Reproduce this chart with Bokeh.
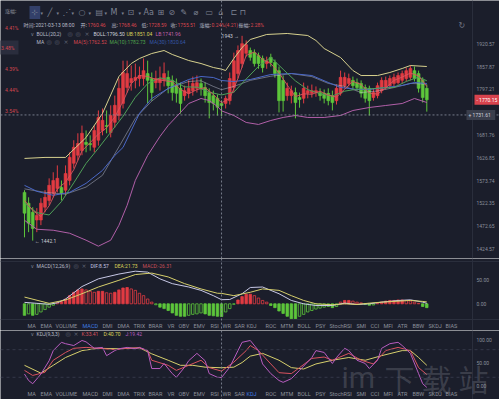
from bokeh.plotting import figure
from bokeh.models import ColumnDataSource, Label, Span, FixedTicker, PrintfTickFormatter, Range1d
from bokeh.layouts import column
from bokeh.embed import file_html
from bokeh.resources import INLINE

# ---------------- data ----------------
opens = [1547, 1523, 1503, 1486, 1486, 1514, 1529, 1545, 1556, 1558,
         1552, 1574, 1614, 1633, 1644, 1664, 1661, 1652, 1669, 1693,
         1705, 1688, 1713, 1730, 1761, 1802, 1815, 1821, 1826, 1826,
         1839, 1826, 1815, 1815, 1821, 1829, 1821, 1807, 1800, 1781,
         1787, 1794, 1800, 1813, 1802, 1789, 1781, 1774, 1760.46, 1761,
         1768, 1802, 1839, 1866, 1894, 1902, 1896, 1888, 1880, 1866,
         1883, 1869, 1847, 1821, 1781, 1781, 1789, 1776, 1774, 1787,
         1787, 1789, 1789, 1787, 1787, 1781, 1768, 1787, 1807, 1813,
         1821, 1815, 1813, 1802, 1800, 1776, 1781, 1794, 1802, 1807,
         1813, 1815, 1821, 1826, 1829, 1847, 1839, 1821, 1800]
highs = [1552, 1536, 1514, 1512, 1534, 1552, 1579, 1593, 1609, 1574,
         1609, 1640, 1669, 1686, 1705, 1693, 1681, 1705, 1743, 1748,
         1743, 1756, 1781, 1826, 1874, 1874, 1861, 1866, 1858, 1880,
         1874, 1842, 1847, 1858, 1869, 1847, 1834, 1826, 1815, 1807,
         1821, 1831, 1834, 1826, 1815, 1800, 1794, 1784, 1768.46, 1781,
         1842, 1896, 1916, 1943, 1930, 1910, 1905, 1896, 1888, 1885,
         1893, 1877, 1858, 1834, 1815, 1807, 1802, 1789, 1815, 1807,
         1810, 1805, 1800, 1797, 1800, 1794, 1810, 1847, 1842, 1839,
         1831, 1826, 1821, 1810, 1807, 1800, 1815, 1829, 1831, 1834,
         1839, 1842, 1847, 1855, 1861, 1858, 1847, 1829, 1810]
lows = [1449, 1460, 1442.1, 1460, 1475, 1503, 1518, 1536, 1547, 1529,
        1540, 1563, 1602, 1621, 1633, 1640, 1644, 1640, 1656, 1681,
        1686, 1676, 1700, 1718, 1748, 1789, 1794, 1800, 1805, 1807,
        1761, 1768, 1800, 1794, 1805, 1787, 1768, 1763, 1735, 1768,
        1774, 1781, 1789, 1781, 1763, 1723, 1743, 1730, 1728.59, 1748,
        1758, 1789, 1826, 1855, 1885, 1874, 1858, 1852, 1842, 1852,
        1858, 1828, 1738, 1740, 1768, 1761, 1723, 1750, 1761, 1774,
        1776, 1778, 1768, 1761, 1756, 1743, 1758, 1781, 1800, 1805,
        1797, 1794, 1776, 1763, 1730, 1768, 1774, 1787, 1797, 1800,
        1805, 1810, 1813, 1818, 1821, 1818, 1789, 1763, 1740]
closes = [1501, 1479, 1468, 1496, 1523, 1536, 1563, 1574, 1579, 1545,
          1590, 1628, 1652, 1661, 1686, 1659, 1658, 1693, 1725, 1718,
          1703, 1730, 1756, 1800, 1842, 1839, 1826, 1829, 1834, 1847,
          1821, 1789, 1826, 1826, 1839, 1807, 1789, 1787, 1761, 1794,
          1800, 1813, 1815, 1800, 1781, 1763, 1761, 1751, 1755.51, 1774,
          1826, 1874, 1902, 1921, 1918, 1883, 1866, 1866, 1855, 1874,
          1869, 1839, 1768, 1768, 1800, 1794, 1763, 1771, 1800, 1794,
          1794, 1794, 1781, 1774, 1768, 1763, 1800, 1829, 1829, 1826,
          1807, 1802, 1787, 1774, 1768, 1789, 1807, 1821, 1821, 1826,
          1829, 1834, 1839, 1847, 1853, 1826, 1800, 1776, 1770.15]

ub_idx = [0, 5, 10, 15, 19, 23, 26, 28, 31, 34, 36, 40, 43, 46, 48, 49, 51, 53, 55, 59,
          64, 69, 71, 73, 77, 80, 82, 86, 89, 92, 94, 98]
ub_val = [1625.4, 1627.8, 1627.8, 1675.8, 1735.4, 1831.3, 1866.2, 1879.9, 1893.6, 1901.9,
          1890.9, 1874.4, 1866.2, 1855.4, 1851.04, 1847.3, 1879.9, 1910.2, 1932.6, 1946.8,
          1949.6, 1943.9, 1929.8, 1907.4, 1882.6, 1847.3, 1833.9, 1833.9, 1842.0, 1852.7,
          1860.8, 1858.1]
lb_idx = [0, 3, 7, 11, 15, 18, 21, 23, 25, 27, 30, 33, 35, 38, 40, 43, 45, 47, 48, 51,
          54, 57, 60, 63, 66, 69, 73, 77, 80, 84, 88, 92, 95, 98]
lb_val = [1485.5, 1466.2, 1464.1, 1457.7, 1443.0, 1430.5, 1443.0, 1474.7, 1518.2, 1574.3,
          1632.5, 1678.2, 1705.3, 1737.9, 1760.7, 1773.6, 1768.4, 1753.1, 1741.96, 1730.3,
          1712.8, 1707.8, 1717.7, 1725.3, 1730.3, 1725.3, 1725.3, 1730.3, 1742.9, 1750.5,
          1755.6, 1760.7, 1773.6, 1763.3]
mb_idx = [0, 5, 10, 15, 19, 23, 27, 31, 35, 40, 43, 46, 48, 51, 55, 60, 65, 70, 74, 78,
          82, 86, 90, 94, 98]
mb_val = [1555, 1547, 1543, 1559, 1586, 1653, 1723, 1767, 1800, 1818, 1820, 1805, 1796.5,
          1805, 1821, 1832, 1839, 1831, 1813, 1805, 1789, 1793, 1802, 1813, 1811]
ma5_idx = list(range(0, 99, 2))
ma5_val = [1529, 1507, 1493.4, 1517.2, 1555, 1570.2, 1598.8, 1643.4, 1663.2, 1684.2,
           1699.4, 1726.4, 1766.2, 1812.6, 1834, 1831.4, 1823.4, 1820.2, 1817.4, 1796.6,
           1786.2, 1796.6, 1801.8, 1784, 1762.52, 1773.5, 1826.3, 1888.2, 1898, 1877.6,
           1866, 1841, 1808.8, 1778.6, 1785.6, 1784.4, 1792.6, 1782.2, 1777.2, 1797.8,
           1818.2, 1810.2, 1787.6, 1785, 1801.2, 1820.8, 1829.8, 1840.4, 1833, 1805]
ma10_idx = [0, 3, 6, 9, 12, 15, 18, 21, 24, 27, 30, 33, 36, 39, 42, 45, 48, 51, 54, 57,
            60, 63, 66, 69, 72, 75, 78, 81, 84, 87, 90, 93, 96, 98]
ma10_val = [1523, 1502, 1497, 1526.4, 1568.6, 1613.7, 1649.7, 1688.5, 1728.4, 1776.8,
            1812.4, 1827.9, 1820.7, 1803.9, 1803.1, 1790.3, 1782.73, 1790, 1824.6, 1858.6,
            1882.8, 1850.6, 1819.6, 1796.6, 1785.9, 1780.2, 1792.6, 1797.9, 1798.5, 1801,
            1802.4, 1818.1, 1829.6, 1820]
ma30_idx = [0, 3, 7, 11, 15, 19, 22, 24, 28, 31, 35, 40, 43, 46, 48, 51, 55, 60, 65, 70,
            74, 77, 81, 84, 88, 92, 95, 98]
ma30_val = [1562.9, 1549.4, 1540.4, 1547.1, 1567.5, 1597.3, 1632.5, 1651.6, 1735.4, 1773.6,
            1799.6, 1823.3, 1831.3, 1828.6, 1820.6, 1818.0, 1823.3, 1836.6, 1839.3, 1833.9,
            1815.4, 1802.2, 1797.0, 1797.0, 1802.2, 1807.4, 1815.4, 1812.7]

macd_hist = [-24, -21, -24, -22, -17, -12, -7, -3, 2.6, 4.7,
             10, 17, 24, 29, 31, 29, 26, 24, 26, 26,
             23, 22, 24, 29, 33, 34, 31, 28, 22, 17,
             10, 3.5, -2, -7, -10, -14, -19, -24, -26, -26,
             -24, -22, -21, -19, -21, -24, -25, -26, -26.31, -17,
             -10, -1, 8, 15, 20, 20, 17, 12, 7, 3.5,
             -3.5, -8, -15, -20, -26, -31, -31, -26, -22, -17,
             -14, -11, -9, -7, -5.6, -8, -5.6, 3.5, 7, 7,
             5.6, 3.5, 2, -1.5, -3, -2.5, 1, 3.5, 5.6, 7,
             7, 8, 8, 7, 5.6, 3.5, 1, -5.6, -8]
dif_idx = [0, 3, 6, 8, 10, 14, 18, 23, 27, 30, 33, 36, 40, 43, 46, 48, 50, 53, 55, 58,
           62, 65, 68, 71, 75, 78, 81, 84, 87, 91, 94, 97, 98]
dif_val = [3, 1, -1, 2, 10, 36, 52, 62, 68, 66, 52, 42, 35, 28, 17, 8.57, 9, 21, 34, 35,
           21, 7, 0, -3.5, -3.5, 1.4, -1.4, 0, 3.5, 6.9, 8.3, 3.5, 1]
dea_idx = [0, 6, 10, 14, 18, 23, 27, 31, 35, 39, 43, 47, 48, 51, 55, 58, 62, 65, 68, 71,
           75, 78, 81, 84, 87, 91, 94, 97, 98]
dea_val = [14, 1, 8, 21, 35, 49, 61, 64, 56, 42, 31, 22, 21.73, 17, 24, 31, 28, 17, 7, 0,
           -2, 0, -1.4, 1.4, 3.5, 5.5, 7, 5, 4]

k_idx = [0, 2, 5, 7, 10, 12, 15, 18, 22, 25, 28, 30, 31, 35, 37, 40, 43, 45, 48, 51,
         54, 55, 57, 60, 62, 65, 67, 70, 73, 75, 79, 82, 85, 88, 91, 94, 96, 98]
k_val = [35, 24, 31, 57, 74, 83, 85, 83, 80, 83, 84, 78, 57, 46, 35, 46, 57, 41, 33.41, 53,
         78, 89, 78, 49, 30, 28, 41, 61, 64, 57, 72, 57, 49, 78, 85, 78, 41, 26]
d_idx = [0, 4, 7, 10, 14, 18, 23, 28, 31, 35, 38, 41, 44, 48, 51, 53, 55, 58, 62, 65,
         68, 71, 75, 79, 83, 87, 92, 94, 96, 98]
d_val = [46, 29, 46, 63, 78, 83, 82, 84, 71, 57, 46, 46, 42, 40.70, 42, 52, 66, 72, 57, 41,
         38, 49, 57, 63, 57, 67, 78, 78, 63, 46]
j_idx = [0, 1, 2, 4, 6, 7, 9, 10, 12, 14, 15, 17, 19, 20, 22, 23, 25, 27, 28, 30,
         31, 33, 34, 36, 37, 39, 40, 42, 44, 45, 47, 48, 50, 52, 53, 55, 57, 58, 60, 62,
         63, 65, 67, 70, 71, 73, 75, 76, 78, 79, 81, 83, 84, 86, 87, 89, 91, 92, 94, 96,
         97, 98]
j_val = [27, 13, 6, 27, 56, 78, 96, 93, 89, 100, 97, 83, 85, 67, 78, 82, 85, 82, 85, 78,
         39, 39, 50, 28, 20, 42, 56, 72, 56, 28, 20, 19.42, 42, 78, 96, 100, 78, 49, 28, 13,
         9, 17, 35, 63, 78, 74, 50, 63, 83, 78, 57, 50, 39, 57, 83, 93, 96, 89, 72, 28,
         6, -2]

price_ticks = [1424.57, 1472.65, 1522.35, 1573.74, 1626.85, 1681.76, 1797.21, 1857.87, 1920.57]
macd_ticks = [0, 50]
kdj_ticks = [0, 50, 100]
cross_idx = 48
cross_price = 1731.61
last_price = 1770.15
left_pcts = ["4.41%", "3.48%", "4.39%", "4.44%", "3.54%"]
tabs = ["MA", "EMA", "VOLUME", "MACD", "DMI", "DMA", "TRIX", "BRAR", "VR", "OBV", "EMV", "RSI",
        "WR", "SAR", "KDJ", "ROC", "MTM", "BOLL", "PSY", "StochRSI", "SMI", "CCI", "MFI", "ATR",
        "BBW", "SKDJ", "BIAS"]

# ---------------- style ----------------
BG = "#1b1e2b"
RED = "#e23b42"
GREEN = "#5dc63b"
SEP = "#2b2f3d"
AXT = "#8b909c"
TXT = "#b9bdc9"
LAT = "Roboto"
CJK = "Noto Sans CJK SC"
XR = (-5.846, 115.71)     # frame spans the whole 499 px width
AXIS_EDGE = 109.13        # where the price-axis column starts (x = 472 px)


def make_fig(fh, yr, ylog=False):
    kw = dict(frame_width=499, frame_height=fh, x_range=Range1d(*XR), y_range=yr,
              x_axis_location=None, y_axis_location="right",
              output_backend="svg", toolbar_location=None,
              min_border_left=0, min_border_right=0, min_border_top=0,
              min_border_bottom=0, background_fill_color=BG, border_fill_color=BG,
              outline_line_color=None)
    if ylog:
        kw["y_axis_type"] = "log"
    f = figure(**kw)
    f.grid.visible = False
    ax = f.yaxis[0]
    ax.axis_line_color = None
    ax.major_tick_line_color = None
    ax.minor_tick_line_color = None
    ax.major_tick_out = 0
    ax.major_tick_in = 0
    ax.minor_tick_out = 0
    ax.minor_tick_in = 0
    ax.major_label_text_color = AXT
    ax.major_label_text_font_size = "5px"
    ax.major_label_text_font = LAT
    ax.major_label_standoff = -23
    ax.formatter = PrintfTickFormatter(format="%.2f")
    f.add_layout(Span(location=AXIS_EDGE, dimension="height", line_color=SEP, line_width=1))
    return f


def T(f, fb, cx, cy, text, color, size=5, font=LAT, align="left", bg=None, pad=0, alpha=1.0):
    lab = Label(x=cx, y=fb - cy, x_units="screen", y_units="screen", text=text,
                text_color=color, text_font_size=f"{size}px", text_font=font,
                text_align=align, text_baseline="middle", text_alpha=alpha)
    if bg is not None:
        lab.background_fill_color = bg
        lab.padding = pad
    f.add_layout(lab)


def cross(f):
    f.add_layout(Span(location=cross_idx, dimension="height", line_color="#8d93a2",
                      line_dash="2 2", line_width=0.8))


# ---------------- main price panel ----------------
p = make_fig(258, Range1d(1405.09, 2045.5), ylog=True)
p.yaxis.ticker = FixedTicker(ticks=price_ticks)
idx = list(range(len(closes)))
src = ColumnDataSource(dict(
    x=idx, h=highs, l=lows,
    top=[max(o, c) for o, c in zip(opens, closes)],
    bot=[min(o, c) for o, c in zip(opens, closes)],
    col=[RED if c >= o else GREEN for o, c in zip(opens, closes)],
))
p.segment(x0="x", y0="l", x1="x", y1="h", line_color="col", line_width=1, source=src)
p.vbar(x="x", width=0.7, top="top", bottom="bot", fill_color="col", line_color="col",
       line_width=0.6, source=src)
p.line(mb_idx, mb_val, line_color="#c9cfe0", line_width=1, line_alpha=0.45)
p.line(ma30_idx, ma30_val, line_color="#4a68c8", line_width=1)
p.line(ma10_idx, ma10_val, line_color="#4f9e58", line_width=1)
p.line(ma5_idx, ma5_val, line_color="#d9545e", line_width=1, line_alpha=0.9)
p.line(ub_idx, ub_val, line_color="#d7d18e", line_width=1)
p.line(lb_idx, lb_val, line_color="#b15fa8", line_width=1)
cross(p)
p.add_layout(Span(location=cross_price, dimension="width", line_color="#8d93a2",
                  line_dash="2 2", line_width=0.8))
p.add_layout(Label(x=53, y=1943, text="1943 →", text_color="#c9ccd6", text_font_size="5px",
                   text_font=LAT, text_align="right", text_baseline="middle", x_offset=-3))
p.add_layout(Label(x=2, y=1442.1, text="← 1442.1", text_color="#c9ccd6", text_font_size="5px",
                   text_font=LAT, text_align="left", text_baseline="middle", x_offset=2))
p.add_layout(Label(x=474, y=last_price, x_units="screen", text="- 1770.15", text_color="white",
                   text_font_size="5px", text_font=LAT, text_baseline="middle",
                   background_fill_color="#d8434d", padding=2))
p.add_layout(Label(x=466, y=cross_price, x_units="screen", text="+   1731.61", text_color="#d0d3dc",
                   text_font_size="5px", text_font=LAT, text_baseline="middle",
                   background_fill_color="#3a3e4c", padding=2))

FB = 258
# toolbar
icons = ["⊹", "▾", "╱", "▾", "⋰", "▾", "○", "▾", "▤", "▾", "M", "▾", "⊡", "▾", "Aa", "⊞", "⊘",
         "✎", "⌀", "▭", "⌂", "⊏", "⊓"]
icon_x = [29, 40, 47, 56, 62, 71, 78, 88, 95, 104, 110, 121, 127, 138, 143, 157, 168, 180, 193,
          205, 218, 230, 239]
for s, xx in zip(icons, icon_x):
    sz = 5 if s == "▾" else 8
    T(p, FB, xx, 12, s, "#7f8494", size=sz, font="DejaVu Sans",
      bg="#33406a" if s == "⊹" else None, pad=2)
T(p, FB, 458, 25, "↻", "#6f7484", size=8, font="DejaVu Sans")
# info row
T(p, FB, 23, 24, "时间:", TXT, font=CJK)
T(p, FB, 35, 24, "2021-03-13 08:00", TXT)
info = [("开:", 80, "1760.46"), ("高:", 111, "1768.46"), ("低:", 141, "1728.59"),
        ("收:", 170, "1755.51"), ("涨幅:", 199, "0.24%(4.21)"), ("振幅:", 238, "2.28%")]
for lab, xx, val in info:
    T(p, FB, xx, 24, lab, TXT, font=CJK)
    T(p, FB, xx + (7 if len(lab) == 2 else 12), 24, val, "#d9464f")
# BOLL row
T(p, FB, 30, 33, "∨", "#7f8494", font="DejaVu Sans")
T(p, FB, 36, 33, "BOLL(20,2)", TXT)
for xx, s in [(67, "◎"), (75, "◎"), (84, "×")]:
    T(p, FB, xx, 33, s, "#5f6475", size=6, font="DejaVu Sans")
T(p, FB, 93, 33, "BOLL:1796.50", "#d0d3dc")
T(p, FB, 126, 33, "UB:1851.04", "#dcd35a")
T(p, FB, 155, 33, "LB:1741.96", "#c463ab")
# MA row
T(p, FB, 36, 41, "MA", TXT)
for xx, s in [(46, "◎"), (54, "◎"), (63, "×")]:
    T(p, FB, xx, 41, s, "#5f6475", size=6, font="DejaVu Sans")
T(p, FB, 73, 41, "MA(5):1762.52", "#d4464f")
T(p, FB, 109, 41, "MA(10):1782.73", "#4fa54c")
T(p, FB, 149, 41, "MA(30):1820.64", "#3657a8")
# left strip
T(p, FB, 16, 10, "涨幅:", "#8b909c", font=CJK, align="right")
for n, (s, yy) in enumerate(zip(left_pcts, [27, 47, 68, 89, 110])):
    T(p, FB, 18, yy, s, "#d4464f", align="right",
      bg="#2a2d3d" if n == 1 else None, pad=4)

# ---------------- MACD panel ----------------
m = make_fig(72, Range1d(-55.6, 94.4))
m.yaxis.ticker = FixedTicker(ticks=macd_ticks)
hcol, hfill = [], []
for i, v in enumerate(macd_hist):
    c = RED if v >= 0 else GREEN
    shrinking = i > 0 and abs(v) < abs(macd_hist[i - 1])
    hcol.append(c)
    hfill.append(BG if shrinking else c)
m.vbar(x=idx, top=macd_hist, bottom=0, width=0.6, fill_color=hfill, line_color=hcol,
       line_width=0.8)
m.line(dif_idx, dif_val, line_color="#c7c8e6", line_width=1)
m.line(dea_idx, dea_val, line_color="#d6cf6c", line_width=1)
m.add_layout(Span(location=88.1, dimension="width", line_color=SEP, line_width=1))
m.add_layout(Span(location=-32.7, dimension="width", line_color=SEP, line_width=1))
cross(m)
MB = 330
T(m, MB, 30, 265, "∨", "#7f8494", font="DejaVu Sans")
T(m, MB, 36, 265, "MACD(12,26,9)", TXT)
for xx, s in [(73, "◎"), (81, "×")]:
    T(m, MB, xx, 265, s, "#5f6475", size=6, font="DejaVu Sans")
T(m, MB, 90, 265, "DIF:8.57", "#c7c8e6")
T(m, MB, 114, 265, "DEA:21.73", "#dcd35a")
T(m, MB, 142, 265, "MACD:-26.31", "#c8505a")
tab_x = [27, 40, 55, 82, 102, 117, 133, 148, 167, 178, 193, 210, 222, 234, 246, 265, 280, 297,
         315, 329, 356, 370, 383, 397, 412, 428, 445]
for name, xx in zip(tabs, tab_x):
    T(m, MB, xx, 325, name, "#3f7be0" if name == "MACD" else "#8d919c", size=5.5)

# ---------------- KDJ panel ----------------
k = make_fig(69, Range1d(-28.3, 121.7))
k.yaxis.ticker = FixedTicker(ticks=kdj_ticks)
k.add_layout(Span(location=80, dimension="width", line_color="#3a3f50", line_dash="3 3", line_width=0.8))
k.add_layout(Span(location=20, dimension="width", line_color="#3a3f50", line_dash="3 3", line_width=0.8))
k.line(d_idx, d_val, line_color="#d6cf6c", line_width=1)
k.line(k_idx, k_val, line_color="#d9525f", line_width=1)
k.line(j_idx, j_val, line_color="#b85cc0", line_width=1)
cross(k)
KB = 399
T(k, KB, 30, 333, "∨", "#7f8494", font="DejaVu Sans")
T(k, KB, 36, 333, "KDJ(9,3,3)", TXT)
for xx, s in [(65, "◎"), (73, "×")]:
    T(k, KB, xx, 333, s, "#5f6475", size=6, font="DejaVu Sans")
T(k, KB, 81, 333, "K:33.41", "#d9525f")
T(k, KB, 103, 333, "D:40.70", "#dcd35a")
T(k, KB, 125, 333, "J:19.42", "#b85cc0")
for name, xx in zip(tabs, tab_x):
    T(k, KB, xx, 393, name, "#3f7be0" if name == "KDJ" else "#8d919c", size=5.5)
# watermark, kept fully inside the window
T(k, KB, 341, 377, "im", "#8a8d96", size=30, font=LAT, alpha=0.3)
for ch, xx in zip(["下", "载", "站"], [384, 421, 458]):
    T(k, KB, xx, 377, ch, "#8a8d96", size=30, font=CJK, alpha=0.3)

layout = column(p, m, k, spacing=0)
open("out.html", "w").write(file_html(layout, INLINE))
